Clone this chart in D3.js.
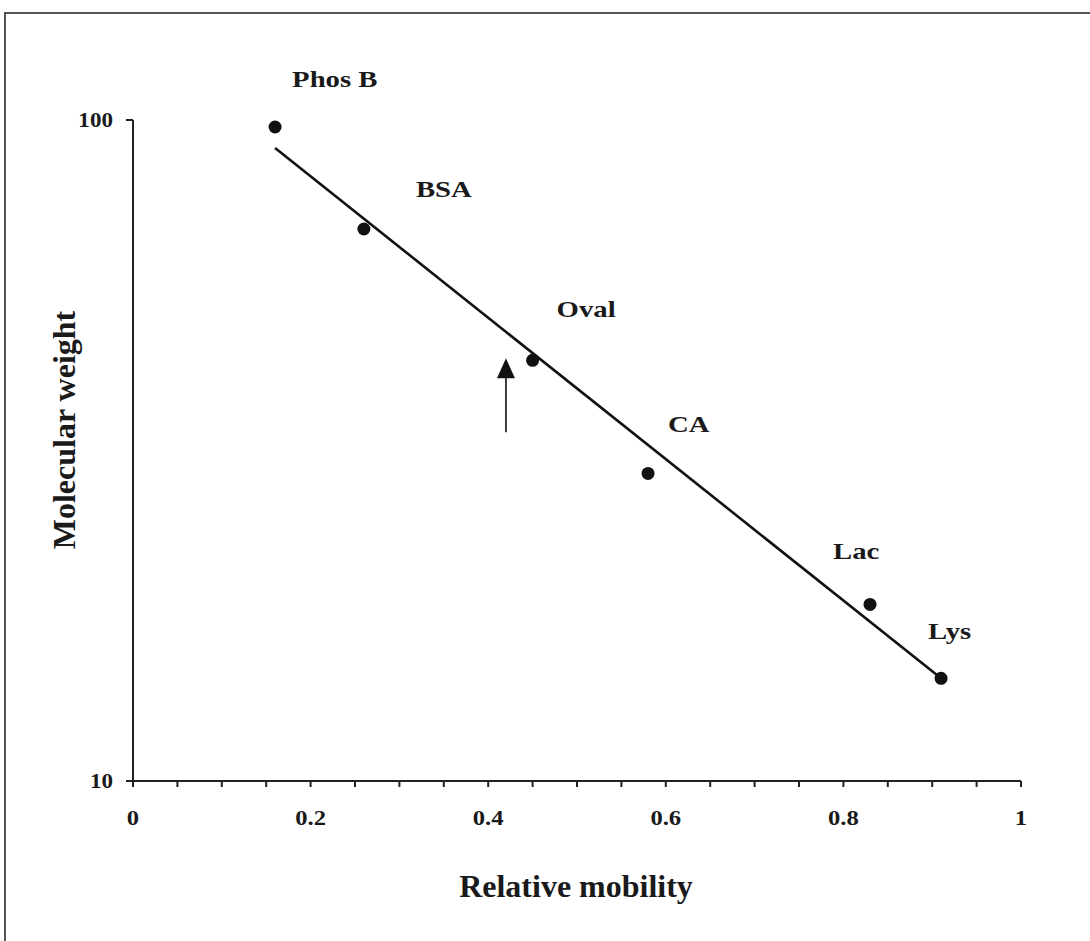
<!DOCTYPE html>
<html>
<head>
<meta charset="utf-8">
<script src="https://cdn.jsdelivr.net/npm/d3@7"></script>
<style>
  html, body { margin: 0; padding: 0; background: #fff; }
  svg { display: block; }
  text { font-family: "Liberation Serif", "DejaVu Serif", serif; font-weight: bold; fill: #1a1a1a; }
</style>
</head>
<body>
<svg id="chart" width="1090" height="941"></svg>
<script>
// ---- data ----
const proteins = ["Phos B", "BSA", "Oval", "CA", "Lac", "Lys"];
const mobility = [0.16, 0.26, 0.45, 0.58, 0.83, 0.91];
const molWeight = [97.6, 68.4, 43.3, 29.2, 18.5, 14.3];
const fitMobility = [0.16, 0.91];
const fitWeight = [90.7, 14.3];
const arrowMobility = [0.42];
const arrowWeight = [33.7, 43.6];   // [tail, tip]
const xTicks = [0, 0.2, 0.4, 0.6, 0.8, 1];
const xMinorTicks = d3.range(0, 1.0001, 0.05);
const yTicks = [10, 100];
// label offsets from each point (pixels)
const labelDx = [17, 52, 24, 20, -37, -13];
const labelDy = [-40, -32, -43, -41, -45, -39];

const svg = d3.select("#chart");
const W = 1090, H = 941;

const x = d3.scaleLinear().domain([0, 1]).range([133, 1021]);
const y = d3.scaleLog().domain([10, 100]).range([781, 120]);

// frame
svg.append("path")
  .attr("d", `M5,${H} L5,13 L${W},13`)
  .attr("fill", "none").attr("stroke", "#555").attr("stroke-width", 2);

// x axis
const gx = svg.append("g").attr("transform", `translate(0,${y(10)})`);
gx.append("line").attr("x1", x(0)).attr("x2", x(1)).attr("stroke", "#222").attr("stroke-width", 2);
gx.selectAll(".mt").data(xMinorTicks).join("line")
  .attr("x1", d => x(d)).attr("x2", d => x(d))
  .attr("y1", 0).attr("y2", 6).attr("stroke", "#222").attr("stroke-width", 2);
gx.selectAll(".tl").data(xTicks).join("text")
  .attr("transform", d => `translate(${x(d)},44) scale(1.12,1)`)
  .attr("text-anchor", "middle").attr("font-size", 22)
  .text(d => d3.format("")(d));

// y axis
const gy = svg.append("g").attr("transform", `translate(${x(0)},0)`);
gy.append("line").attr("y1", y(100)).attr("y2", y(10)).attr("stroke", "#222").attr("stroke-width", 2);
gy.selectAll(".yt").data(yTicks).join("line")
  .attr("x1", -7).attr("x2", 0).attr("y1", d => y(d)).attr("y2", d => y(d))
  .attr("stroke", "#222").attr("stroke-width", 2);
gy.selectAll(".ytl").data(yTicks).join("text")
  .attr("transform", d => `translate(-20,${y(d) + 7}) scale(1.1,1)`)
  .attr("text-anchor", "end").attr("font-size", 21)
  .text(d => d);

// fit line
svg.append("line")
  .attr("x1", x(fitMobility[0])).attr("y1", y(fitWeight[0]))
  .attr("x2", x(fitMobility[1])).attr("y2", y(fitWeight[1]))
  .attr("stroke", "#111").attr("stroke-width", 2.6);

// points
svg.selectAll(".pt").data(proteins).join("circle")
  .attr("cx", (d, i) => x(mobility[i])).attr("cy", (d, i) => y(molWeight[i]))
  .attr("r", 6.5).attr("fill", "#111");

// labels
svg.selectAll(".lbl").data(proteins).join("text")
  .attr("transform", (d, i) => `translate(${x(mobility[i]) + labelDx[i]},${y(molWeight[i]) + labelDy[i]}) scale(1.25,1)`)
  .attr("font-size", 23)
  .text(d => d);

// arrow
const ax = x(arrowMobility[0]);
const tail = y(arrowWeight[0]), tip = y(arrowWeight[1]);
svg.append("line").attr("x1", ax).attr("x2", ax).attr("y1", tail).attr("y2", tip + 18)
  .attr("stroke", "#111").attr("stroke-width", 1.6);
svg.append("path")
  .attr("d", `M${ax},${tip} L${ax - 9},${tip + 20} L${ax + 9},${tip + 20} Z`)
  .attr("fill", "#111");

// axis titles
svg.append("text")
  .attr("x", 576).attr("y", 897)
  .attr("text-anchor", "middle").attr("font-size", 32)
  .text("Relative mobility");
svg.append("text")
  .attr("transform", `translate(75,430) rotate(-90)`)
  .attr("text-anchor", "middle").attr("font-size", 32)
  .text("Molecular weight");
</script>
</body>
</html>
